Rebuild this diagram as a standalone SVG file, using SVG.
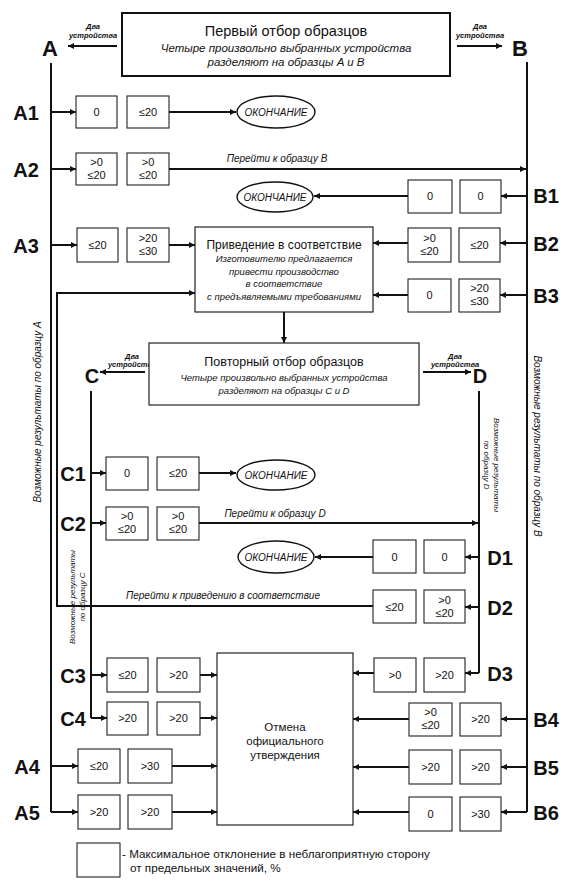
<svg xmlns="http://www.w3.org/2000/svg" width="578" height="893" viewBox="0 0 578 893">
<defs>
<marker id="ah" viewBox="0 0 10 10" refX="10" refY="5" markerWidth="9" markerHeight="6" markerUnits="userSpaceOnUse" orient="auto">
<path d="M0,0 L10,5 L0,10 z" fill="#111"/>
</marker>
</defs>
<style>
text{font-family:"Liberation Sans",Arial,sans-serif;fill:#111}
.box{fill:#fff;stroke:#222;stroke-width:1.1}
.main{fill:#fff;stroke:#111;stroke-width:2}
.pbox{fill:#fff;stroke:#222;stroke-width:1.2}
.ln{fill:none;stroke:#111;stroke-width:2}
.ar{fill:none;stroke:#111;stroke-width:2;marker-end:url(#ah)}
.v{font-size:11px;text-anchor:middle}
.lbl{font-size:20px;font-weight:bold;text-anchor:middle}
.big{font-size:22px;font-weight:bold;text-anchor:middle}
.it{font-style:italic}
.small{font-size:7.5px;font-style:italic;font-weight:bold;text-anchor:middle}
.end{fill:#fff;stroke:#111;stroke-width:1.4}
.endt{font-size:10px;font-style:italic;text-anchor:middle}
.go{font-size:10px;font-style:italic;text-anchor:middle}
.vt{font-size:10px;font-style:italic;text-anchor:middle}
.vt2{font-size:8px;font-style:italic;text-anchor:middle}
</style>

<g id="connectors">
<path class="ar" d="M117,46 H68"/>
<path class="ar" d="M457,46 H502"/>
<path class="ln" d="M51,63 V812"/>
<path class="ar" d="M51,112 H76"/>
<path class="ar" d="M51,169 H76"/>
<path class="ar" d="M51,245 H77"/>
<path class="ar" d="M51,766 H78"/>
<path class="ar" d="M51,812 H78"/>
<path class="ln" d="M527,62 V812"/>
<path class="ar" d="M527,196 H501"/>
<path class="ar" d="M527,243 H500"/>
<path class="ar" d="M527,295 H500"/>
<path class="ar" d="M527,719 H501"/>
<path class="ar" d="M527,767 H501"/>
<path class="ar" d="M527,812 H501"/>
<path class="ar" d="M169,112 H236"/>
<path class="ar" d="M169,169 H526"/>
<path class="ar" d="M408,196 H314"/>
<path class="ar" d="M169,245 H195"/>
<path class="ar" d="M408,243 H373"/>
<path class="ar" d="M408,295 H373"/>
<path class="ar" d="M373,606 H57 V293 H195"/>
<path class="ar" d="M284,312 V343"/>
<path class="ar" d="M145,372 H100"/>
<path class="ar" d="M423,372 H471"/>
<path class="ln" d="M91,391 V718"/>
<path class="ar" d="M91,473 H106"/>
<path class="ar" d="M91,523 H106"/>
<path class="ar" d="M91,675 H107"/>
<path class="ar" d="M91,718 H107"/>
<path class="ln" d="M479,391 V673"/>
<path class="ar" d="M479,557 H465"/>
<path class="ar" d="M479,607 H465"/>
<path class="ar" d="M479,673 H465"/>
<path class="ar" d="M199,473 H236"/>
<path class="ar" d="M199,523 H478"/>
<path class="ar" d="M373,557 H315"/>
<path class="ar" d="M200,675 H217"/>
<path class="ar" d="M200,718 H217"/>
<path class="ar" d="M172,766 H217"/>
<path class="ar" d="M172,812 H217"/>
<path class="ar" d="M374,673 H353"/>
<path class="ar" d="M409,719 H353"/>
<path class="ar" d="M409,767 H353"/>
<path class="ar" d="M409,812 H353"/>
</g>

<g id="labels-connectors">
<text class="small" x="93" y="29">Два</text>
<text class="small" x="93" y="38">устройства</text>
<text class="small" x="480" y="29">Два</text>
<text class="small" x="480" y="38">устройства</text>
<text class="small" x="132" y="359">Два</text>
<text class="small" x="132" y="367">устройства</text>
<text class="small" x="455" y="359">Два</text>
<text class="small" x="455" y="367">устройства</text>
<text class="go" x="277" y="162">Перейти к образцу B</text>
<text class="go" x="275" y="517">Перейти к образцу D</text>
<text class="go" x="223" y="599">Перейти к приведению в соответствие</text>
<text class="vt" transform="translate(41,412) rotate(-90)">Возможные результаты по образцу A</text>
<text class="vt" transform="translate(534,446) rotate(90)">Возможные результаты по образцу B</text>
<text class="vt2" transform="translate(75,597) rotate(-90)">Возможные результаты</text>
<text class="vt2" transform="translate(85,597) rotate(-90)">по образцу C</text>
<text class="vt2" transform="translate(494,465) rotate(90)">Возможные результаты</text>
<text class="vt2" transform="translate(484,465) rotate(90)">по образцу D</text>
</g>

<g id="first-sampling">
<rect class="main" x="122" y="13" width="328" height="63"/>
<text x="286" y="36" style="font-size:14.5px;text-anchor:middle">Первый отбор образцов</text>
<text x="286" y="52" class="it" style="font-size:11.5px;text-anchor:middle">Четыре произвольно выбранных устройства</text>
<text x="286" y="66" class="it" style="font-size:11.5px;text-anchor:middle">разделяют на образцы A и B</text>
</g>
<g id="A"><text class="big" x="50" y="56">A</text></g>
<g id="B"><text class="big" x="520" y="56">B</text></g>

<g id="A1">
<text class="lbl" x="26" y="120">A1</text>
<rect class="box" x="76" y="96" width="41" height="32"/><text class="v" x="96.5" y="116">0</text>
<rect class="box" x="127" y="96" width="42" height="32"/><text class="v" x="148" y="116">≤20</text>
</g>
<g id="end-A1">
<ellipse class="end" cx="276" cy="112" rx="39" ry="16"/><text class="endt" x="276" y="116">ОКОНЧАНИЕ</text>
</g>
<g id="A2">
<text class="lbl" x="26" y="177">A2</text>
<rect class="box" x="76" y="153" width="41" height="32"/><text class="v" x="96.5" y="166">&gt;0</text><text class="v" x="96.5" y="179">≤20</text>
<rect class="box" x="127" y="153" width="42" height="32"/><text class="v" x="148" y="166">&gt;0</text><text class="v" x="148" y="179">≤20</text>
</g>
<g id="B1">
<text class="lbl" x="546" y="203">B1</text>
<rect class="box" x="408" y="180" width="44" height="33"/><text class="v" x="430" y="200">0</text>
<rect class="box" x="460" y="180" width="41" height="33"/><text class="v" x="480.5" y="200">0</text>
</g>
<g id="end-B1">
<ellipse class="end" cx="275" cy="197" rx="38" ry="15"/><text class="endt" x="275" y="201">ОКОНЧАНИЕ</text>
</g>
<g id="A3">
<text class="lbl" x="26" y="253">A3</text>
<rect class="box" x="77" y="228" width="41" height="34"/><text class="v" x="97.5" y="249">≤20</text>
<rect class="box" x="127" y="228" width="42" height="34"/><text class="v" x="148" y="242">&gt;20</text><text class="v" x="148" y="255">≤30</text>
</g>
<g id="B2">
<text class="lbl" x="546" y="251">B2</text>
<rect class="box" x="408" y="228" width="43" height="34"/><text class="v" x="429.5" y="242">&gt;0</text><text class="v" x="429.5" y="255">≤20</text>
<rect class="box" x="459" y="228" width="41" height="34"/><text class="v" x="479.5" y="249">≤20</text>
</g>
<g id="B3">
<text class="lbl" x="546" y="303">B3</text>
<rect class="box" x="408" y="279" width="43" height="33"/><text class="v" x="429.5" y="299">0</text>
<rect class="box" x="459" y="279" width="41" height="33"/><text class="v" x="479.5" y="292">&gt;20</text><text class="v" x="479.5" y="305">≤30</text>
</g>
<g id="conformity">
<rect class="pbox" x="195" y="227" width="178" height="85"/>
<text x="284" y="249" style="font-size:12px;text-anchor:middle">Приведение в соответствие</text>
<text x="284" y="262" class="it" style="font-size:9.5px;text-anchor:middle">Изготовителю предлагается</text>
<text x="284" y="274.5" class="it" style="font-size:9.5px;text-anchor:middle">привести производство</text>
<text x="284" y="287" class="it" style="font-size:9.5px;text-anchor:middle">в соответствие</text>
<text x="284" y="299.5" class="it" style="font-size:9.5px;text-anchor:middle">с предъявляемыми требованиями</text>
</g>
<g id="second-sampling">
<rect class="pbox" x="149" y="343" width="270" height="62"/>
<text x="284" y="366" style="font-size:12.5px;text-anchor:middle">Повторный отбор образцов</text>
<text x="284" y="381" class="it" style="font-size:9.5px;text-anchor:middle">Четыре произвольно выбранных устройства</text>
<text x="284" y="394" class="it" style="font-size:9.5px;text-anchor:middle">разделяют на образцы C и D</text>
</g>
<g id="C"><text class="lbl" x="92" y="383">C</text></g>
<g id="D"><text class="lbl" x="480" y="383">D</text></g>
<g id="C1">
<text class="lbl" x="73" y="481">C1</text>
<rect class="box" x="106" y="457" width="42" height="33"/><text class="v" x="127" y="477">0</text>
<rect class="box" x="157" y="457" width="42" height="33"/><text class="v" x="178" y="477">≤20</text>
</g>
<g id="end-C1">
<ellipse class="end" cx="276" cy="475" rx="39" ry="15"/><text class="endt" x="276" y="479">ОКОНЧАНИЕ</text>
</g>
<g id="C2">
<text class="lbl" x="73" y="531">C2</text>
<rect class="box" x="106" y="507" width="42" height="33"/><text class="v" x="127" y="520">&gt;0</text><text class="v" x="127" y="533">≤20</text>
<rect class="box" x="157" y="507" width="42" height="33"/><text class="v" x="178" y="520">&gt;0</text><text class="v" x="178" y="533">≤20</text>
</g>
<g id="D1">
<text class="lbl" x="500" y="565">D1</text>
<rect class="box" x="373" y="540" width="43" height="33"/><text class="v" x="394.5" y="561">0</text>
<rect class="box" x="424" y="540" width="41" height="33"/><text class="v" x="444.5" y="561">0</text>
</g>
<g id="end-D1">
<ellipse class="end" cx="276" cy="557" rx="38" ry="16"/><text class="endt" x="276" y="561">ОКОНЧАНИЕ</text>
</g>
<g id="D2">
<text class="lbl" x="500" y="615">D2</text>
<rect class="box" x="373" y="590" width="43" height="33"/><text class="v" x="394.5" y="611">≤20</text>
<rect class="box" x="424" y="590" width="41" height="33"/><text class="v" x="444.5" y="604">&gt;0</text><text class="v" x="444.5" y="617">≤20</text>
</g>
<g id="C3">
<text class="lbl" x="73" y="683">C3</text>
<rect class="box" x="107" y="658" width="41" height="34"/><text class="v" x="127.5" y="679">≤20</text>
<rect class="box" x="157" y="658" width="43" height="34"/><text class="v" x="178.5" y="679">&gt;20</text>
</g>
<g id="C4">
<text class="lbl" x="73" y="726">C4</text>
<rect class="box" x="107" y="702" width="41" height="33"/><text class="v" x="127.5" y="722">&gt;20</text>
<rect class="box" x="157" y="702" width="43" height="33"/><text class="v" x="178.5" y="722">&gt;20</text>
</g>
<g id="D3">
<text class="lbl" x="500" y="681">D3</text>
<rect class="box" x="374" y="658" width="42" height="34"/><text class="v" x="395" y="679">&gt;0</text>
<rect class="box" x="424" y="658" width="41" height="34"/><text class="v" x="444.5" y="679">&gt;20</text>
</g>
<g id="withdrawal">
<rect class="pbox" x="217" y="653" width="136" height="172"/>
<text x="285" y="731" style="font-size:11.5px;text-anchor:middle">Отмена</text>
<text x="285" y="745" style="font-size:11.5px;text-anchor:middle">официального</text>
<text x="285" y="759" style="font-size:11.5px;text-anchor:middle">утверждения</text>
</g>
<g id="B4">
<text class="lbl" x="546" y="727">B4</text>
<rect class="box" x="409" y="703" width="43" height="33"/><text class="v" x="430.5" y="716">&gt;0</text><text class="v" x="430.5" y="729">≤20</text>
<rect class="box" x="460" y="703" width="41" height="33"/><text class="v" x="480.5" y="723">&gt;20</text>
</g>
<g id="B5">
<text class="lbl" x="546" y="775">B5</text>
<rect class="box" x="409" y="750" width="43" height="34"/><text class="v" x="430.5" y="771">&gt;20</text>
<rect class="box" x="460" y="750" width="41" height="34"/><text class="v" x="480.5" y="771">&gt;20</text>
</g>
<g id="B6">
<text class="lbl" x="546" y="820">B6</text>
<rect class="box" x="409" y="797" width="43" height="34"/><text class="v" x="430.5" y="818">0</text>
<rect class="box" x="460" y="797" width="41" height="34"/><text class="v" x="480.5" y="818">&gt;30</text>
</g>
<g id="A4">
<text class="lbl" x="27" y="774">A4</text>
<rect class="box" x="78" y="749" width="42" height="34"/><text class="v" x="99" y="770">≤20</text>
<rect class="box" x="128" y="749" width="44" height="34"/><text class="v" x="150" y="770">&gt;30</text>
</g>
<g id="A5">
<text class="lbl" x="27" y="820">A5</text>
<rect class="box" x="78" y="795" width="42" height="34"/><text class="v" x="99" y="816">&gt;20</text>
<rect class="box" x="128" y="795" width="44" height="34"/><text class="v" x="150" y="816">&gt;20</text>
</g>
<g id="legend">
<rect class="box" x="77" y="843" width="43" height="34"/>
<text x="122" y="858" style="font-size:11.7px">- Максимальное отклонение в неблагоприятную сторону</text>
<text x="130" y="872" style="font-size:11.7px">от предельных значений, %</text>
</g>
</svg>
